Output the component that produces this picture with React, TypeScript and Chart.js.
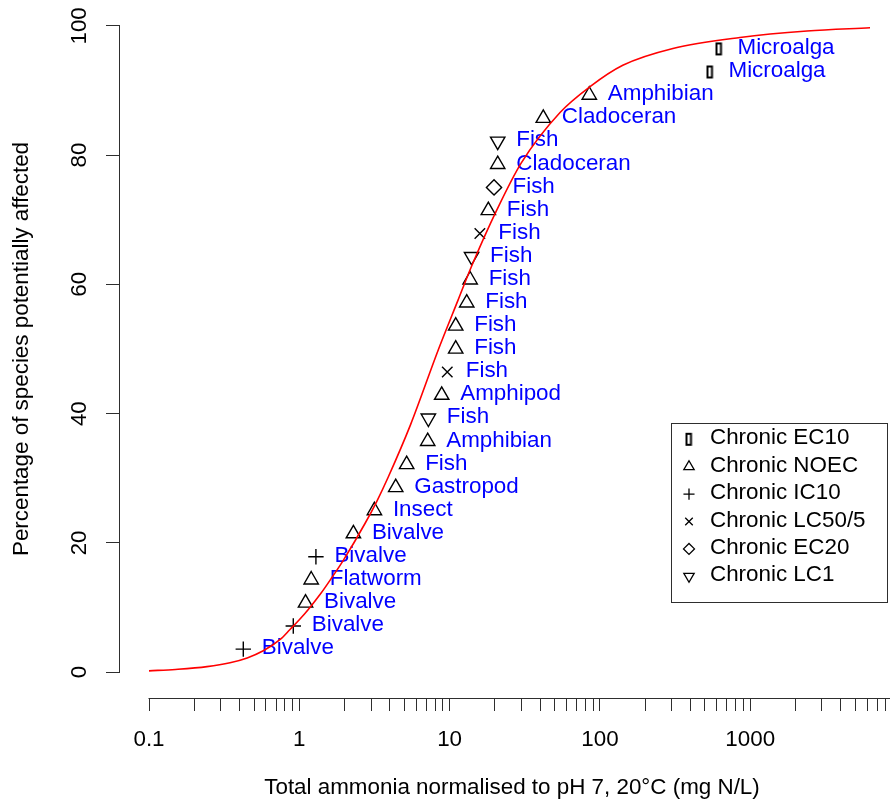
import React, { useEffect, useRef } from 'react';
import { Chart, registerables } from 'chart.js';
import { drawPoint } from 'chart.js/helpers';

Chart.register(...registerables);

const FONT_FAMILY = "'Liberation Sans', Arial, Helvetica, sans-serif";
const FONT_SIZE = 22.4;
const AXIS_COLOR = '#2e2e2e';
const LABEL_COLOR = '#0000ff';

// ---- Species sensitivity data ----
const concentrations = [0.424, 0.912, 1.10, 1.20, 1.29, 2.29, 3.16, 4.38, 5.18, 7.15, 7.22, 8.86, 9.65, 10.98, 10.98, 13.0, 13.7, 14.0, 15.9, 18.1, 19.75, 20.9, 20.9, 42.0, 85.0, 540, 620];
const percentAffected = [3.57, 7.14, 10.71, 14.29, 17.86, 21.43, 25.0, 28.57, 32.14, 35.71, 39.29, 42.86, 46.43, 50.0, 53.57, 57.14, 60.71, 64.29, 67.86, 71.43, 75.0, 78.57, 82.14, 85.71, 89.29, 92.86, 96.43];
const endpoints = ['IC10', 'IC10', 'NOEC', 'NOEC', 'IC10', 'NOEC', 'NOEC', 'NOEC', 'NOEC', 'NOEC', 'LC1', 'NOEC', 'LC50/5', 'NOEC', 'NOEC', 'NOEC', 'NOEC', 'LC1', 'LC50/5', 'NOEC', 'EC20', 'NOEC', 'LC1', 'NOEC', 'NOEC', 'EC10', 'EC10'];
const speciesGroups = ['Bivalve', 'Bivalve', 'Bivalve', 'Flatworm', 'Bivalve', 'Bivalve', 'Insect', 'Gastropod', 'Fish', 'Amphibian', 'Fish', 'Amphipod', 'Fish', 'Fish', 'Fish', 'Fish', 'Fish', 'Fish', 'Fish', 'Fish', 'Fish', 'Cladoceran', 'Fish', 'Cladoceran', 'Amphibian', 'Microalga', 'Microalga'];

// ---- Legend ----
const endpointKeys = ['EC10', 'NOEC', 'IC10', 'LC50/5', 'EC20', 'LC1'];
const legendLabels = ['Chronic EC10', 'Chronic NOEC', 'Chronic IC10', 'Chronic LC50/5', 'Chronic EC20', 'Chronic LC1'];

// ---- Fitted distribution curve ----
const curveConc = [0.1, 0.15, 0.243, 0.346, 0.45, 0.576, 0.75, 0.867, 1.0, 1.148, 1.373, 1.643, 1.962, 2.736, 3.273, 3.908, 5.5, 8.45, 11.4, 14, 20.7, 30, 54.3, 86, 142, 306, 855, 2388, 6270];
const curvePct = [0.2, 0.42, 0.85, 1.45, 2.2, 3.3, 5.1, 6.6, 8.1, 9.7, 12.0, 14.6, 17.3, 23.0, 26.4, 30.2, 38.3, 50, 57.6, 62.8, 71.6, 78.8, 86.6, 90.6, 93.9, 96.5, 98.2, 99.2, 99.7];

// ---- Axes ----
const xTickValues = [0.1, 1, 10, 100, 1000];
const xTickLabels = ['0.1', '1', '10', '100', '1000'];
const xMinorMultipliers = [1, 2, 3, 4, 5, 6, 7, 8, 9];
const yTickValues = [0, 20, 40, 60, 80, 100];
const xTitle = 'Total ammonia normalised to pH 7, 20\u00B0C (mg N/L)';
const yTitle = 'Percentage of species potentially affected';

// scale ranges (R-style 4% extension of data range)
const X_MIN = Math.pow(10, -1 - 29 / 150.3);
const X_MAX = Math.pow(10, (904 - 149) / 150.3 - 1);
const Y_MIN = -4;
const Y_MAX = 104;

const LABEL_DX = 18.5;
const LABEL_DY = -1;

function makeBarMarker(): HTMLCanvasElement {
  const c = document.createElement('canvas');
  c.width = 9;
  c.height = 15;
  const g = c.getContext('2d')!;
  g.strokeStyle = '#000';
  g.lineWidth = 2;
  g.strokeRect(2, 2, 4.5, 11);
  return c;
}

type MarkerStyle = { pointStyle: any; radius: number; rotation: number };

function markerStyles(bar: HTMLCanvasElement): Record<string, MarkerStyle> {
  return {
    'EC10': { pointStyle: bar, radius: 6, rotation: 0 },
    'NOEC': { pointStyle: 'triangle', radius: 8.3, rotation: 0 },
    'IC10': { pointStyle: 'cross', radius: 7.7, rotation: 0 },
    'LC50/5': { pointStyle: 'crossRot', radius: 7.4, rotation: 0 },
    'EC20': { pointStyle: 'rectRot', radius: 7.6, rotation: 0 },
    'LC1': { pointStyle: 'triangle', radius: 8.3, rotation: 180 },
  };
}

const annotatePlugin = {
  id: 'annotate',
  beforeDatasetsDraw(chart: any) {
    const ctx = chart.ctx;
    ctx.save();
    ctx.font = `${FONT_SIZE}px ${FONT_FAMILY}`;
    ctx.fillStyle = LABEL_COLOR;
    ctx.textAlign = 'left';
    ctx.textBaseline = 'middle';
    chart.data.datasets.forEach((ds: any, di: number) => {
      if (!ds.pointLabels) return;
      const meta = chart.getDatasetMeta(di);
      meta.data.forEach((el: any, i: number) => {
        ctx.fillText(ds.pointLabels[i], el.x + LABEL_DX, el.y + LABEL_DY);
      });
    });
    ctx.restore();
  },
  afterDraw(chart: any) {
    const { ctx, chartArea, scales } = chart;
    const xs = scales.x;
    const ys = scales.y;
    ctx.save();
    // detached R-style axis lines
    ctx.strokeStyle = AXIS_COLOR;
    ctx.lineWidth = 1;
    ctx.beginPath();
    const ax = Math.round(chartArea.left) - 0.5;
    ctx.moveTo(ax, Math.round(ys.getPixelForValue(yTickValues[0])) + 0.5);
    ctx.lineTo(ax, Math.round(ys.getPixelForValue(yTickValues[yTickValues.length - 1])) - 0.5);
    const ay = Math.round(chartArea.bottom) + 0.5;
    const lastTick = xs.ticks[xs.ticks.length - 1].value;
    ctx.moveTo(Math.round(xs.getPixelForValue(xTickValues[0])) - 0.5, ay);
    ctx.lineTo(Math.round(xs.getPixelForValue(lastTick)) + 0.5, ay);
    ctx.stroke();

    // legend
    const boxL = 671.5, boxT = 423.5, boxR = 887.5, boxB = 602.5;
    ctx.fillStyle = '#ffffff';
    ctx.fillRect(boxL, boxT, boxR - boxL, boxB - boxT);
    ctx.strokeStyle = AXIS_COLOR;
    ctx.strokeRect(boxL, boxT, boxR - boxL, boxB - boxT);
    ctx.font = `${FONT_SIZE}px ${FONT_FAMILY}`;
    ctx.textAlign = 'left';
    ctx.textBaseline = 'middle';
    const rowY0 = 439.3, rowH = 27.4;
    const symX = 689, textX = 710;
    chart.data.datasets.forEach((ds: any) => {
      if (ds.legendIndex === undefined) return;
      const y = rowY0 + rowH * ds.legendIndex;
      ctx.strokeStyle = '#000';
      ctx.fillStyle = 'rgba(0,0,0,0)';
      ctx.lineWidth = 1.3;
      const isImage = typeof ds.pointStyle === 'object';
      drawPoint(ctx, {
        pointStyle: ds.pointStyle,
        rotation: ds.pointRotation,
        radius: isImage ? ds.pointRadius : ds.pointRadius * 0.72,
        borderWidth: 1.3,
      } as any, symX, y);
      ctx.fillStyle = '#000';
      ctx.fillText(ds.label, textX, y - 1);
    });
    ctx.restore();
  },
};

export default function App() {
  const ref = useRef<HTMLCanvasElement>(null);

  useEffect(() => {
    const canvas = ref.current!;
    const styles = markerStyles(makeBarMarker());

    const curveDataset: any = {
      label: 'fit',
      data: curveConc.map((x, i) => ({ x, y: curvePct[i] })),
      showLine: true,
      borderColor: '#ff0000',
      backgroundColor: '#ff0000',
      borderWidth: 1.6,
      pointRadius: 0,
      cubicInterpolationMode: 'monotone',
    };

    const pointDatasets = endpointKeys.map((key, li) => {
      const idx = endpoints.map((e, i) => (e === key ? i : -1)).filter((i) => i >= 0);
      const st = styles[key];
      return {
        label: legendLabels[li],
        legendIndex: li,
        data: idx.map((i) => ({ x: concentrations[i], y: percentAffected[i] })),
        pointLabels: idx.map((i) => speciesGroups[i]),
        showLine: false,
        pointStyle: st.pointStyle,
        pointRotation: st.rotation,
        pointRadius: st.radius,
        pointBorderWidth: 1.4,
        pointBorderColor: '#000',
        pointBackgroundColor: 'rgba(0,0,0,0)',
        borderColor: '#000',
        backgroundColor: 'rgba(0,0,0,0)',
      };
    });

    const xTicks: number[] = [];
    xTickValues.forEach((d) => xMinorMultipliers.forEach((m) => xTicks.push(d * m)));

    const chart = new Chart(canvas, {
      type: 'scatter',
      data: { datasets: [curveDataset, ...pointDatasets] },
      plugins: [annotatePlugin as any],
      options: {
        animation: false,
        responsive: false,
        devicePixelRatio: 1,
        events: [],
        layout: { padding: 0, autoPadding: false },
        plugins: {
          legend: { display: false },
          tooltip: { enabled: false },
          title: { display: false },
        },
        scales: {
          x: {
            type: 'logarithmic',
            position: 'bottom',
            min: X_MIN,
            max: X_MAX,
            bounds: 'data',
            afterBuildTicks: (s: any) => {
              s.ticks = xTicks.filter((v) => v <= X_MAX).map((v) => ({ value: v }));
            },
            afterFit: (s: any) => {
              s.height = 104;
              s.paddingLeft = 0;
              s.paddingRight = 0;
            },
            grid: { display: true, drawOnChartArea: false, drawTicks: true, tickLength: 13, color: AXIS_COLOR, lineWidth: 1 },
            border: { display: false },
            ticks: {
              autoSkip: false,
              minRotation: 0,
              maxRotation: 0,
              padding: 15.5,
              color: '#000',
              font: { family: FONT_FAMILY, size: FONT_SIZE },
              callback: (value: any) => {
                const i = xTickValues.findIndex((v) => Math.abs(v - value) / v < 1e-9);
                return i >= 0 ? xTickLabels[i] : '';
              },
            },
            title: {
              display: true,
              text: xTitle,
              color: '#000',
              font: { family: FONT_FAMILY, size: FONT_SIZE, lineHeight: 1 },
              padding: { top: 0, bottom: 3 },
            },
          } as any,
          y: {
            type: 'linear',
            position: 'left',
            min: Y_MIN,
            max: Y_MAX,
            bounds: 'data',
            afterBuildTicks: (s: any) => {
              s.ticks = yTickValues.map((v) => ({ value: v }));
            },
            afterFit: (s: any) => {
              s.width = 120;
              s.paddingTop = 0;
              s.paddingBottom = 0;
            },
            grid: { display: true, drawOnChartArea: false, drawTicks: true, tickLength: 14, color: AXIS_COLOR, lineWidth: 1 },
            border: { display: false },
            ticks: {
              autoSkip: false,
              minRotation: 90,
              maxRotation: 90,
              crossAlign: 'center',
              padding: 7.2,
              color: '#000',
              font: { family: FONT_FAMILY, size: FONT_SIZE },
              callback: (value: any) => String(value),
            },
            title: {
              display: true,
              text: yTitle,
              color: '#000',
              font: { family: FONT_FAMILY, size: FONT_SIZE, lineHeight: 1 },
              padding: { top: 11, bottom: 0 },
            },
          } as any,
        },
      },
    });

    return () => chart.destroy();
  }, []);

  return (
    <div style={{ position: 'fixed', left: 0, top: 0, width: 890, height: 802, overflow: 'hidden', background: '#ffffff' }}>
      <canvas ref={ref} width={904} height={802} style={{ display: 'block', width: 904, height: 802 }} />
    </div>
  );
}
